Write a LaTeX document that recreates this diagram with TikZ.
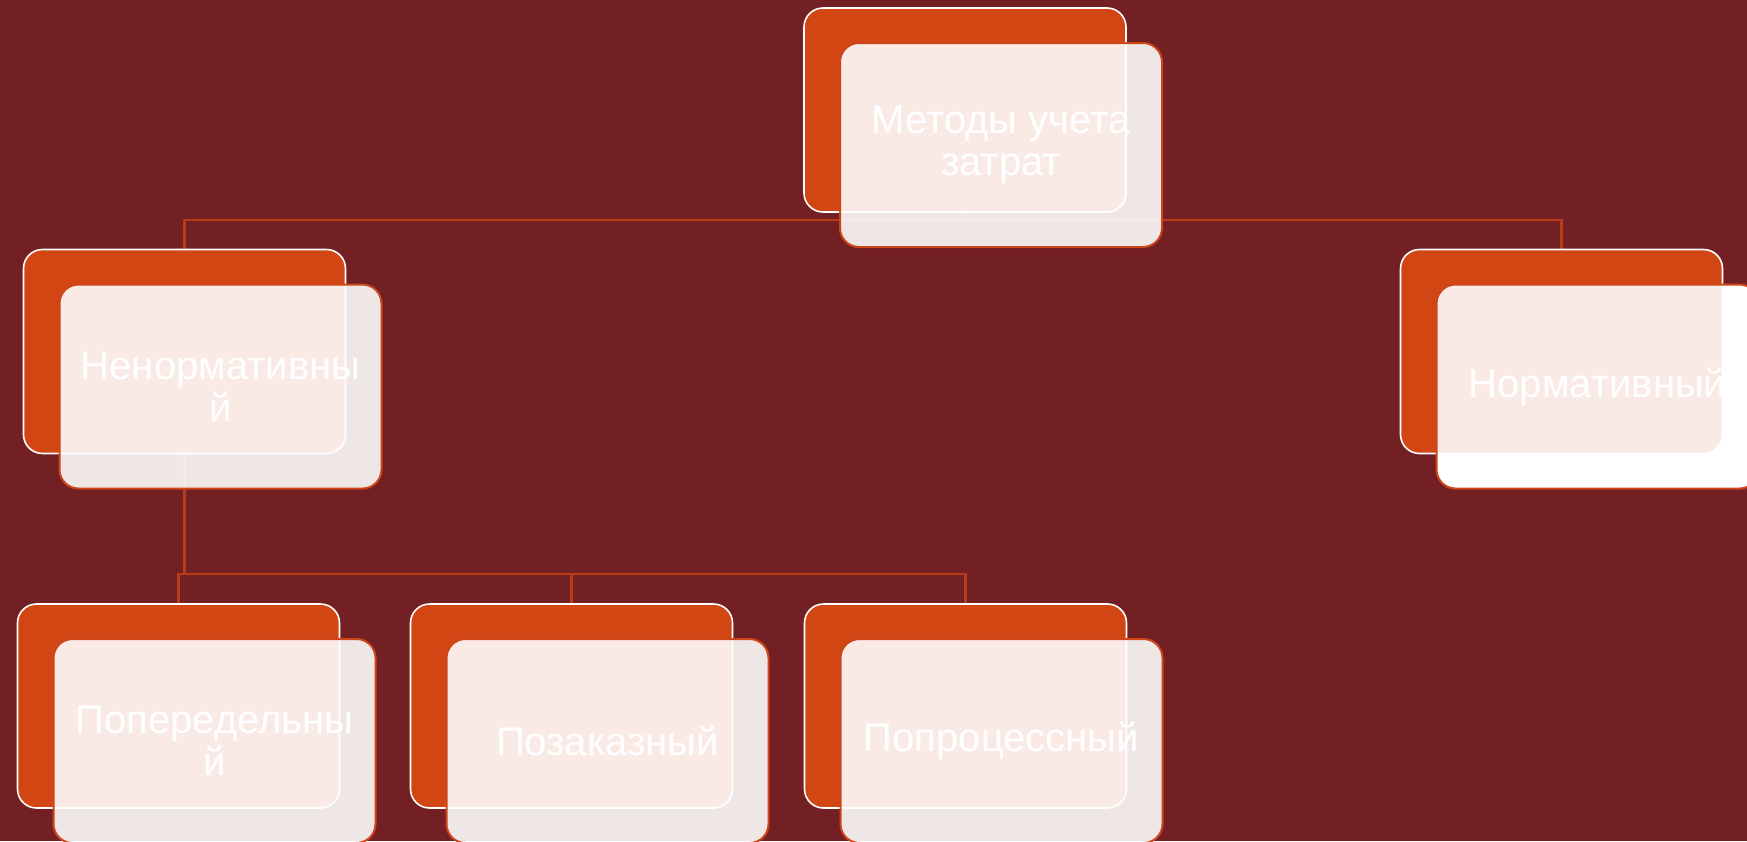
\documentclass[tikz,border=0pt]{standalone}
\usepackage{fontspec}
\setmainfont{Liberation Sans}
\pgfdeclarelayer{bg}
\pgfsetlayers{bg,main}
\definecolor{bgred}{RGB}{114,32,36}
\definecolor{boxorange}{RGB}{210,70,20}
\definecolor{lineorange}{RGB}{185,60,25}
\definecolor{frontedge}{RGB}{205,70,25}
\begin{document}
\begin{tikzpicture}[x=1pt,y=-1pt,
  boxshape/.style={rectangle, rounded corners=19pt, minimum width=322pt, minimum height=204pt, inner sep=0pt, outer sep=0pt},
  backbox/.style={boxshape, draw=white, line width=1.6pt, fill=boxorange},
  frontbox/.style={boxshape, draw=frontedge, line width=2pt, fill=white, fill opacity=.89, text opacity=1, text=white, align=center, font=\fontsize{40}{42}\selectfont},
  underlay/.style={boxshape, fill=white, draw=none},
  conn/.style={draw=lineorange, line width=2.2pt}]
\useasboundingbox (0,0) rectangle (1747,841);
\begin{pgfonlayer}{bg}
\fill[bgred] (0,0) rectangle (1747,841);
\end{pgfonlayer}

% underlay for the right box (shows white beneath)
\node[underlay] (rightU) at (1597.5,386.5) {};

% back boxes
\node[backbox] (top)   at (965,110) {};
\node[backbox] (left)  at (184.5,351.5) {};
\node[backbox] (right) at (1561.5,351.5) {};
\node[backbox] (b1)    at (178.5,706) {};
\node[backbox] (b2)    at (571.5,706) {};
\node[backbox] (b3)    at (965.5,706) {};

% front boxes with text
\node[frontbox] (topF)   at (1001,145)    {Методы учета\\затрат};
\node[frontbox] (leftF)  at (220.5,386.5) {Ненормативны\\й};
\node[frontbox] (rightF) at (1597.5,386.5) {Нормативный};
\node[frontbox] (b1F)    at (214.5,741)   {Попередельны\\й};
\node[frontbox] (b2F)    at (607.5,741)   {Позаказный};
\node[frontbox] (b3F)    at (1001.5,741)  {Попроцессный};

% connectors (behind everything)
\begin{pgfonlayer}{bg}
\coordinate (topbar) at ([yshift=-8pt]top.south);
\draw[conn] (top.south) -- (topbar) -| (left.north);
\draw[conn] (topbar) -| (right.north);
\coordinate (hub) at (184.5,574);
\draw[conn] (left.south) -- (hub);
\draw[conn] (b1.north) |- (b3.north |- hub) -- (b3.north);
\draw[conn] (b2.north) -- (b2.north |- hub);
\end{pgfonlayer}
\end{tikzpicture}
\end{document}
